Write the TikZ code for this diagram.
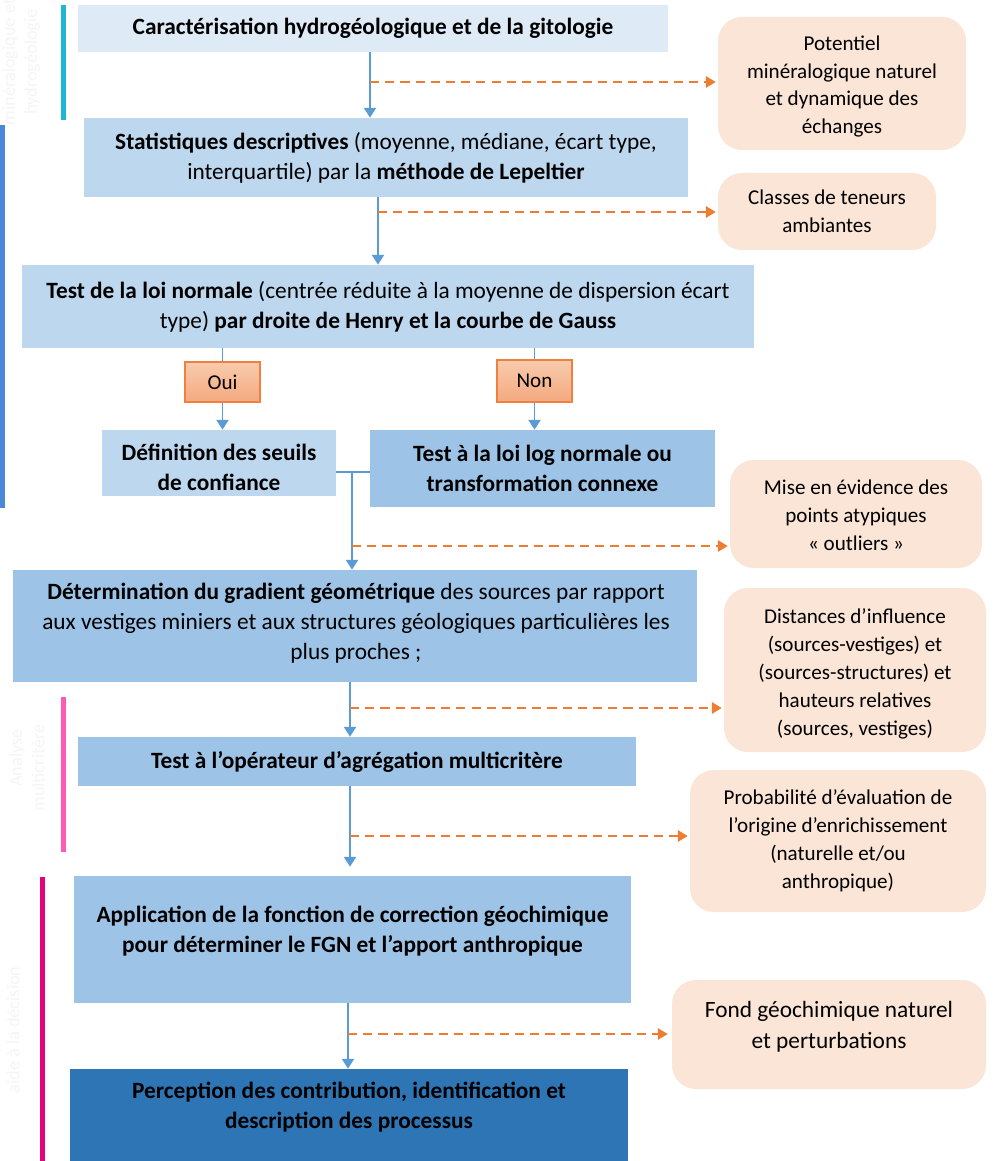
\documentclass[tikz,border=0pt]{standalone}
\usepackage{fontspec}
\setmainfont{Carlito}
\usetikzlibrary{arrows.meta}
\definecolor{boxA}{HTML}{DEEAF6}
\definecolor{boxB}{HTML}{BDD7EE}
\definecolor{boxE}{HTML}{9DC3E6}
\definecolor{boxI}{HTML}{2E75B6}
\definecolor{peach}{HTML}{FBE5D6}
\definecolor{ouitop}{HTML}{F8CBAD}
\definecolor{ouibot}{HTML}{F4A97E}
\definecolor{ouiline}{HTML}{F08040}
\definecolor{arrowblue}{HTML}{5B9BD5}
\definecolor{dashorange}{HTML}{ED7D31}
\definecolor{barcyan}{HTML}{1FB6D6}
\definecolor{barblue}{HTML}{4A88DA}
\definecolor{barpink}{HTML}{FF5BB4}
\definecolor{barmag}{HTML}{E6007E}
\def\PX{0.025cm}
\tikzset{
  every node/.style={inner sep=0pt, align=center},
  txt/.style={font=\fontsize{16.6}{21.3}\selectfont},
  txtb/.style={font=\fontsize{16.6}{21.3}\selectfont\bfseries},
  ptxt/.style={font=\fontsize{15}{19.9}\selectfont},
  lightbox/.style={fill=boxA},
  midbox/.style={fill=boxB},
  darkbox/.style={fill=boxE},
  deepbox/.style={fill=boxI},
  peachbox/.style={fill=peach, rounded corners=0.6cm},
  yn/.style={top color=ouitop, bottom color=ouibot, draw=ouiline, line width=0.8pt,
    font=\fontsize{15}{18}\selectfont},
  arr/.style={draw=arrowblue, line width=1.4pt, -{Triangle[length=7pt,width=8.5pt]}},
  plain/.style={draw=arrowblue, line width=1.4pt},
  dsh/.style={draw=dashorange, line width=1.4pt, dash pattern=on 6.5pt off 4.3pt,
    -{Triangle[length=7pt,width=8pt]}},
  bar/.style={line width=5*\PX},
  faint/.style={text=black!4, font=\fontsize{13}{16}\selectfont, rotate=90},
}
\begin{document}
\begin{tikzpicture}[x=0.025cm,y=-0.025cm]
\useasboundingbox (0,0) rectangle (993,1161);
\fill[white] (0,0) rectangle (993,1161);

% faint side labels
\node[faint] (f1) at (10,62) {minéralogique et};
\node[faint] (f2) at (32,62) {hydrogéologie};
\node[faint] (f3) at (17,758) {Analyse};
\node[faint] (f4) at (38,768) {multicritère};
\node[faint] (f5) at (13,1030) {aide à la décision};

% side bars
\draw[bar, barcyan] (63.5,5) -- (63.5,120);
\draw[bar, barblue] (2.5,125) -- (2.5,508);
\draw[bar, barpink] (63.5,697) -- (63.5,852);
\draw[bar, barmag] (42.5,877) -- (42.5,1161);

% main boxes
\node[lightbox, txtb, minimum width=590*\PX, minimum height=47*\PX] (A) at (373,28.5)
  {Caractérisation hydrogéologique et de la gitologie};
\node[midbox, txt, minimum width=604*\PX, minimum height=79*\PX] (B) at (386,157.5)
  {\textbf{Statistiques descriptives} (moyenne, médiane, écart type,\\
   interquartile) par la \textbf{méthode de Lepeltier}};
\node[midbox, txt, minimum width=732*\PX, minimum height=83*\PX] (C) at (388,306.5)
  {\textbf{Test de la loi normale} (centrée réduite à la moyenne de dispersion écart\\
   type) \textbf{par droite de Henry et la courbe de Gauss}};
\node[yn, minimum width=75*\PX, minimum height=40*\PX] (oui) at (222.5,382) {Oui};
\node[yn, minimum width=75*\PX, minimum height=42*\PX] (non) at (534.5,381) {Non};
\node[midbox, minimum width=234*\PX, minimum height=66*\PX] (D) at (219,463) {};
\node[txtb] (Dt) at (219,467.5) {Définition des seuils\\ de confiance};
\node[darkbox, txtb, minimum width=345*\PX, minimum height=77*\PX] (E) at (542.5,468.5)
  {Test à la loi log normale ou\\ transformation connexe};
\node[darkbox, minimum width=684*\PX, minimum height=112*\PX] (F) at (355,626) {};
\node[txt] (Ft) at (356,623)
  {\textbf{Détermination du gradient géométrique} des sources par rapport\\
   aux vestiges miniers et aux structures géologiques particulières les\\
   plus proches ;};
\node[darkbox, txtb, minimum width=558*\PX, minimum height=49*\PX] (G) at (357,761.5)
  {Test à l’opérateur d’agrégation multicritère};
\node[darkbox, minimum width=557*\PX, minimum height=127*\PX] (H) at (352.5,939.5) {};
\node[txtb] (Ht) at (352.5,931)
  {Application de la fonction de correction géochimique\\
   pour déterminer le FGN et l’apport anthropique};
\node[deepbox, minimum width=558*\PX, minimum height=92*\PX] (I) at (349,1115) {};
\node[txtb] (It) at (349,1107.5)
  {Perception des contribution, identification et\\ description des processus};

% peach boxes
\node[peachbox, minimum width=248*\PX, minimum height=133*\PX] (P1) at (842,83.5) {};
\begin{scope}
  \clip (718,17) rectangle (966,137);
  \node[ptxt] (P1t) at (842,86.5) {Potentiel\\ minéralogique naturel\\ et dynamique des\\ échanges};
\end{scope}
\node[peachbox, ptxt, minimum width=218*\PX, minimum height=77*\PX] (P2) at (827,211.5)
  {Classes de teneurs\\ ambiantes};
\node[peachbox, minimum width=252*\PX, minimum height=108*\PX] (P3) at (856,514) {};
\node[ptxt] (P3t) at (856,515) {Mise en évidence des\\ points atypiques\\ « outliers »};
\node[peachbox, minimum width=262*\PX, minimum height=164*\PX] (P4) at (855,670) {};
\begin{scope}
  \clip (724,588) rectangle (986,740);
  \node[ptxt] (P4t) at (855,674) {Distances d’influence\\ (sources-vestiges) et\\
    (sources-structures) et\\ hauteurs relatives\\ (sources, vestiges)};
\end{scope}
\node[peachbox, ptxt, minimum width=296*\PX, minimum height=142*\PX] (P5) at (838,841)
  {Probabilité d’évaluation de\\ l’origine d’enrichissement\\ (naturelle et/ou\\ anthropique)};
\node[peachbox, minimum width=314*\PX, minimum height=109*\PX] (P6) at (829,1034.5) {};
\node[font=\fontsize{16.6}{22}\selectfont] (P6t) at (829,1026.5)
  {Fond géochimique naturel\\ et perturbations};

% connectors
\coordinate (k1) at (370,82);
\draw[arr] (A.south -| k1) -- (B.north -| k1);
\draw[dsh] (k1) -- ([xshift=-2*\PX]P1.west |- k1);

\coordinate (k2) at (378,212);
\draw[arr] (B.south -| k2) -- (C.north -| k2);
\draw[dsh] (k2) -- ([xshift=-2*\PX]P2.west |- k2);

\draw[plain] (C.south -| oui) -- (oui.north);
\draw[arr] (oui.south) -- (D.north -| oui);
\draw[plain] (C.south -| non) -- (non.north);
\draw[arr] (non.south) -- (E.north -| non);

\coordinate (k3) at (352,472);
\draw[plain] (D.east |- k3) -- (E.west |- k3);
\draw[arr] (k3) -- (F.north -| k3);
\coordinate (k4) at (352,546);
\draw[dsh] (k4) -- ([xshift=-2*\PX]P3.west |- k4);

\coordinate (k5) at (350,708);
\draw[arr] (F.south -| k5) -- (G.north -| k5);
\draw[dsh] (k5) -- ([xshift=-2*\PX]P4.west |- k5);

\coordinate (k6) at (350,836);
\draw[arr, shorten >=9*\PX] (G.south -| k6) -- (H.north -| k6);
\draw[dsh] (k6) -- ([xshift=-2*\PX]P5.west |- k6);

\coordinate (k7) at (348,1034);
\draw[arr] (H.south -| k7) -- (I.north -| k7);
\draw[dsh] (k7) -- ([xshift=-4*\PX]P6.west |- k7);
\end{tikzpicture}
\end{document}
